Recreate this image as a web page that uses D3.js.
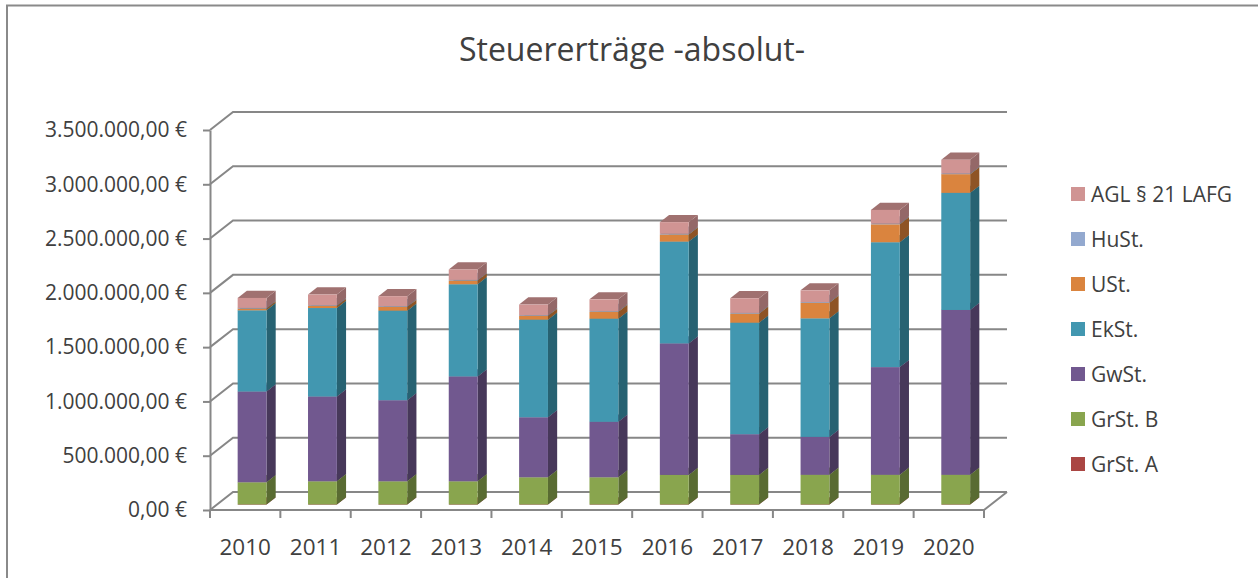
<!DOCTYPE html>
<html>
<head>
<meta charset="utf-8">
<script src="https://cdn.jsdelivr.net/npm/d3@7"></script>
<style>
  body { margin: 0; background: #fff; }
  svg text { font-family: "Open Sans", sans-serif; fill: #404040; }
</style>
</head>
<body>
<div id="chart"></div>
<script>
// categories
const years = ['2010', '2011', '2012', '2013', '2014', '2015', '2016', '2017', '2018', '2019', '2020'];

// series values in euro
const grStA = [1500, 1500, 1500, 1500, 1500, 1500, 1500, 1500, 1500, 1500, 1500];
const grStB = [204000, 213000, 213000, 213000, 250000, 250000, 272000, 272000, 273000, 273000, 273000];
const gwSt = [836000, 781000, 747000, 966000, 553000, 511000, 1211000, 375000, 349000, 992000, 1518000];
const ekSt = [748000, 815000, 825000, 849000, 899000, 950000, 938000, 1027000, 1092000, 1150000, 1079000];
const uSt = [16000, 20000, 35000, 34000, 35000, 64000, 65000, 83000, 143000, 165000, 172000];
const huSt = [6000, 6000, 6000, 6000, 6000, 6000, 7000, 7000, 7000, 7000, 7000];
const agl = [92000, 98000, 92000, 96000, 98000, 108000, 107000, 135000, 108000, 126000, 126000];

const seriesNames = ['GrSt. A', 'GrSt. B', 'GwSt.', 'EkSt.', 'USt.', 'HuSt.', 'AGL § 21 LAFG'];
const seriesValues = [grStA, grStB, gwSt, ekSt, uSt, huSt, agl];
const yTicks = [0, 500000, 1000000, 1500000, 2000000, 2500000, 3000000, 3500000];

const title = 'Steuererträge -absolut-';

// styling
const fronts = ['#AA4643', '#89A54E', '#71588F', '#4297B0', '#DA843E', '#93A9CF', '#D09493'];
const sides  = ['#6E2D2B', '#596B32', '#47385A', '#276272', '#8E5425', '#5F6E87', '#946868'];
const tops   = ['#833634', '#6A7F3C', '#574570', '#317585', '#A8652F', '#71839F', '#A07170'];

const W = 1258, H = 578;
const depthX = 23, depthY = -18;     // full floor depth
const barFrom = 0.3, barTo = 0.7;   // bar depth within the floor

const table = years.map((yr, i) => {
    const row = { year: yr };
    seriesNames.forEach((s, k) => row[s] = seriesValues[k][i]);
    return row;
});

const locale = d3.formatLocale({ decimal: ',', thousands: '.', grouping: [3], currency: ['', ' €'] });
const euro = locale.format('$,.2f');

const x = d3.scaleBand().domain(years).range([210, 984]).paddingInner(0.59).paddingOuter(0.295);
const y = d3.scaleLinear().domain([0, 3500000]).range([510, 130]);

const svg = d3.select('#chart').append('svg')
    .attr('width', W)
    .attr('height', H);

// chart border
svg.append('rect')
    .attr('x', 7).attr('y', 5.5)
    .attr('width', 1400).attr('height', 700)
    .attr('fill', 'none')
    .attr('stroke', '#8a8a8a')
    .attr('stroke-width', 2);

svg.append('text')
    .attr('x', 632).attr('y', 61)
    .attr('text-anchor', 'middle')
    .style('font-size', '32px')
    .text(title);

// walls: gridlines on side wall and back wall
const grid = svg.append('g').attr('fill', 'none').attr('stroke', '#878787').attr('stroke-width', 2);
const x0 = x.range()[0], x1 = x.range()[1];
grid.selectAll('path.grid')
    .data(yTicks)
    .enter()
    .append('path')
    .attr('class', 'grid')
    .attr('d', d => `M${x0},${y(d)}L${x0 + depthX},${y(d) + depthY}L${x1 + depthX},${y(d) + depthY}`);

// floor front and right edge
grid.append('path')
    .attr('d', `M${x0},${y(0)}L${x1},${y(0)}L${x1 + depthX},${y(0) + depthY}`);

// y axis
const yAxis = d3.axisLeft(y)
    .tickValues(yTicks)
    .tickSize(7)
    .tickSizeOuter(0)
    .tickPadding(16)
    .tickFormat(euro);

const yg = svg.append('g')
    .attr('transform', `translate(${x0},0)`)
    .call(yAxis);
yg.select('.domain').attr('stroke', '#878787').attr('stroke-width', 2);
yg.selectAll('.tick line').attr('stroke', '#878787').attr('stroke-width', 2);
yg.selectAll('.tick text')
    .style('font-size', '21px')
    .style('font-family', '"Open Sans", sans-serif')
    .attr('fill', '#404040');

// x axis ticks between categories
const step = x.step();
grid.selectAll('line.xtick')
    .data(d3.range(years.length + 1))
    .enter()
    .append('line')
    .attr('class', 'xtick')
    .attr('x1', i => x0 + i * step).attr('x2', i => x0 + i * step)
    .attr('y1', y(0)).attr('y2', y(0) + 8);

svg.append('g')
    .selectAll('text')
    .data(years)
    .enter()
    .append('text')
    .attr('x', d => x(d) + x.bandwidth() / 2)
    .attr('y', 555)
    .attr('text-anchor', 'middle')
    .style('font-size', '22.5px')
    .text(d => d);

// stacked 3D columns
const stacked = d3.stack().keys(seriesNames)(table);
const fx = barFrom * depthX, fy = barFrom * depthY;
const sx = (barTo - barFrom) * depthX, sy = (barTo - barFrom) * depthY;
const bw = x.bandwidth();

stacked.forEach((layer, k) => {
    const g = svg.append('g').attr('class', 'layer');
    const seg = g.selectAll('g')
        .data(layer)
        .enter()
        .append('g');

    // side face
    seg.append('path')
        .attr('fill', sides[k])
        .attr('d', d => {
            const l = x(d.data.year) + fx + bw, b = y(d[0]) + fy, t = y(d[1]) + fy;
            return `M${l},${t}L${l + sx},${t + sy}L${l + sx},${b + sy}L${l},${b}Z`;
        });
    // top face
    seg.append('path')
        .attr('fill', tops[k])
        .attr('d', d => {
            const l = x(d.data.year) + fx, t = y(d[1]) + fy;
            return `M${l},${t}L${l + sx},${t + sy}L${l + bw + sx},${t + sy}L${l + bw},${t}Z`;
        });
    // front face
    seg.append('rect')
        .attr('fill', fronts[k])
        .attr('x', d => x(d.data.year) + fx)
        .attr('y', d => y(d[1]) + fy)
        .attr('width', bw)
        .attr('height', d => y(d[0]) - y(d[1]));
});

// legend, top entry is the last series
const legend = svg.append('g')
    .selectAll('g')
    .data(seriesNames.slice().reverse())
    .enter()
    .append('g')
    .attr('transform', (d, i) => `translate(1071,${194 + i * 45})`);

legend.append('rect')
    .attr('y', -7)
    .attr('width', 14).attr('height', 14)
    .attr('fill', d => fronts[seriesNames.indexOf(d)]);

legend.append('text')
    .attr('x', 20)
    .attr('y', 7.5)
    .style('font-size', '21px')
    .text(d => d);
</script>
</body>
</html>
